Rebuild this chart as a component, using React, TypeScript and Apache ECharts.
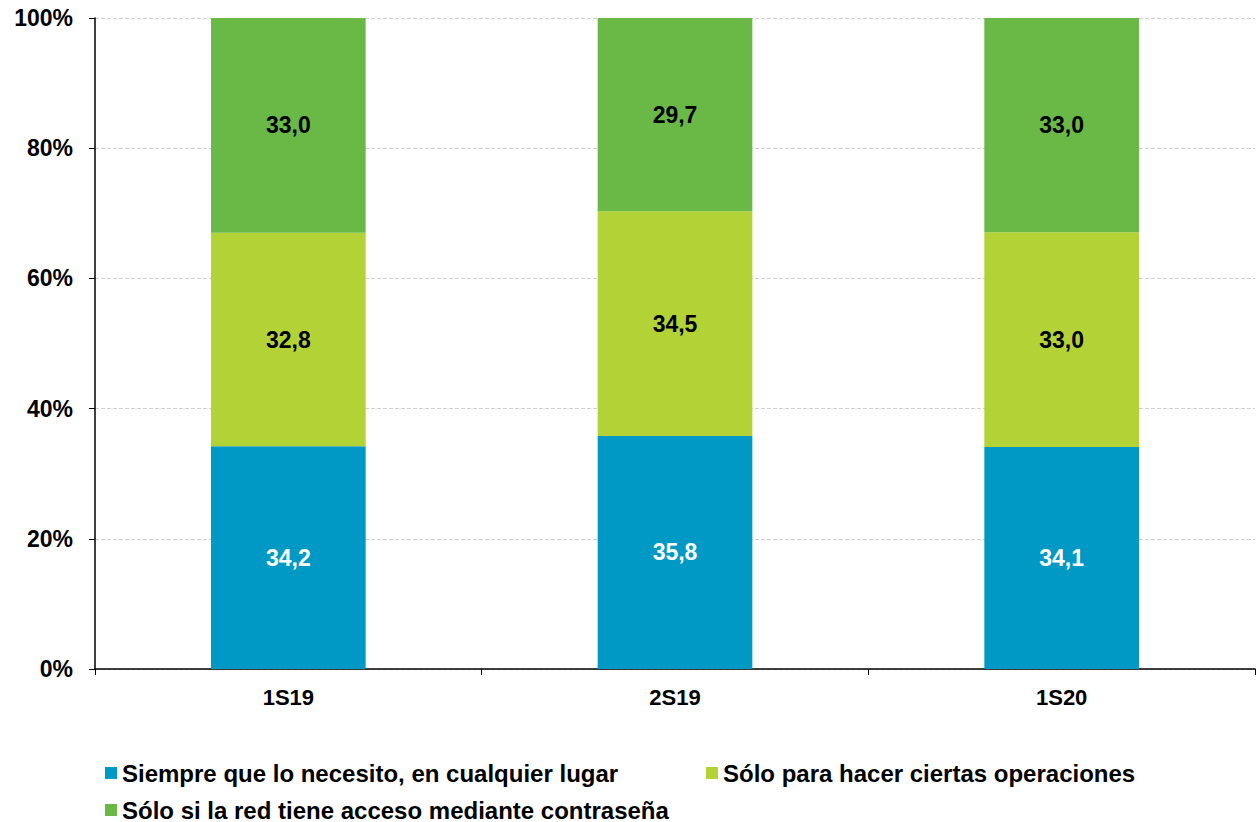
import React, { useEffect, useRef } from "react";
import * as echarts from "echarts";

const categories = ["1S19", "2S19", "1S20"];
const seriesNames = [
  "Siempre que lo necesito, en cualquier lugar",
  "Sólo para hacer ciertas operaciones",
  "Sólo si la red tiene acceso mediante contraseña",
];
const siempre = [34.2, 35.8, 34.1];
const ciertas = [32.8, 34.5, 33.0];
const contrasena = [33.0, 29.7, 33.0];
const colors = ["#0099C5", "#B3D235", "#6AB946"];
const labelColors = ["#FFFFFF", "#000000", "#000000"];

const FONT = "'Liberation Sans', Arial, sans-serif";

export default function App() {
  const ref = useRef<HTMLDivElement>(null);
  useEffect(() => {
    document.body.style.margin = "0";
    const chart = echarts.init(ref.current!, null, { renderer: "svg" });
    const values = [siempre, ciertas, contrasena];
    const legendPos = [
      { left: 100, top: 756 },
      { left: 701, top: 756 },
      { left: 100, top: 793 },
    ];
    chart.setOption({
      animation: false,
      textStyle: { fontFamily: FONT },
      grid: { left: 95, right: 5, top: 18, bottom: 153, containLabel: false },
      legend: seriesNames.map((n, i) => ({
        data: [n],
        left: legendPos[i].left,
        top: legendPos[i].top,
        itemWidth: 12,
        itemHeight: 12,
        itemGap: 4,
        icon: "rect",
        textStyle: { fontFamily: FONT, fontWeight: "bold", fontSize: 24, color: "#000" },
      })),
      xAxis: {
        type: "category",
        data: categories,
        axisLine: { lineStyle: { color: "#000", width: 1.5 } },
        axisTick: { show: true, length: 6, lineStyle: { color: "#000" } },
        axisLabel: { fontFamily: FONT, fontWeight: "bold", fontSize: 22, color: "#000", margin: 17 },
      },
      yAxis: {
        type: "value",
        min: 0,
        max: 100,
        interval: 20,
        axisLine: { show: true, lineStyle: { color: "#000", width: 1.5 } },
        axisTick: { show: true, length: 6, lineStyle: { color: "#000" } },
        axisLabel: {
          formatter: "{value}%",
          fontFamily: FONT,
          fontWeight: "bold",
          fontSize: 23,
          color: "#000",
          margin: 22,
        },
        splitLine: { show: true, lineStyle: { color: "#D0D0D0", type: "dashed", width: 1 } },
      },
      series: seriesNames.map((n, i) => ({
        name: n,
        type: "bar",
        stack: "total",
        barWidth: "40%",
        data: values[i],
        itemStyle: { color: colors[i] },
        label: {
          show: true,
          position: "inside",
          formatter: (p: any) => p.value.toFixed(1).replace(".", ","),
          fontFamily: FONT,
          fontWeight: "bold",
          fontSize: 23,
          color: labelColors[i],
        },
      })),
    });
    return () => chart.dispose();
  }, []);
  return <div ref={ref} style={{ width: 1260, height: 822 }} />;
}
